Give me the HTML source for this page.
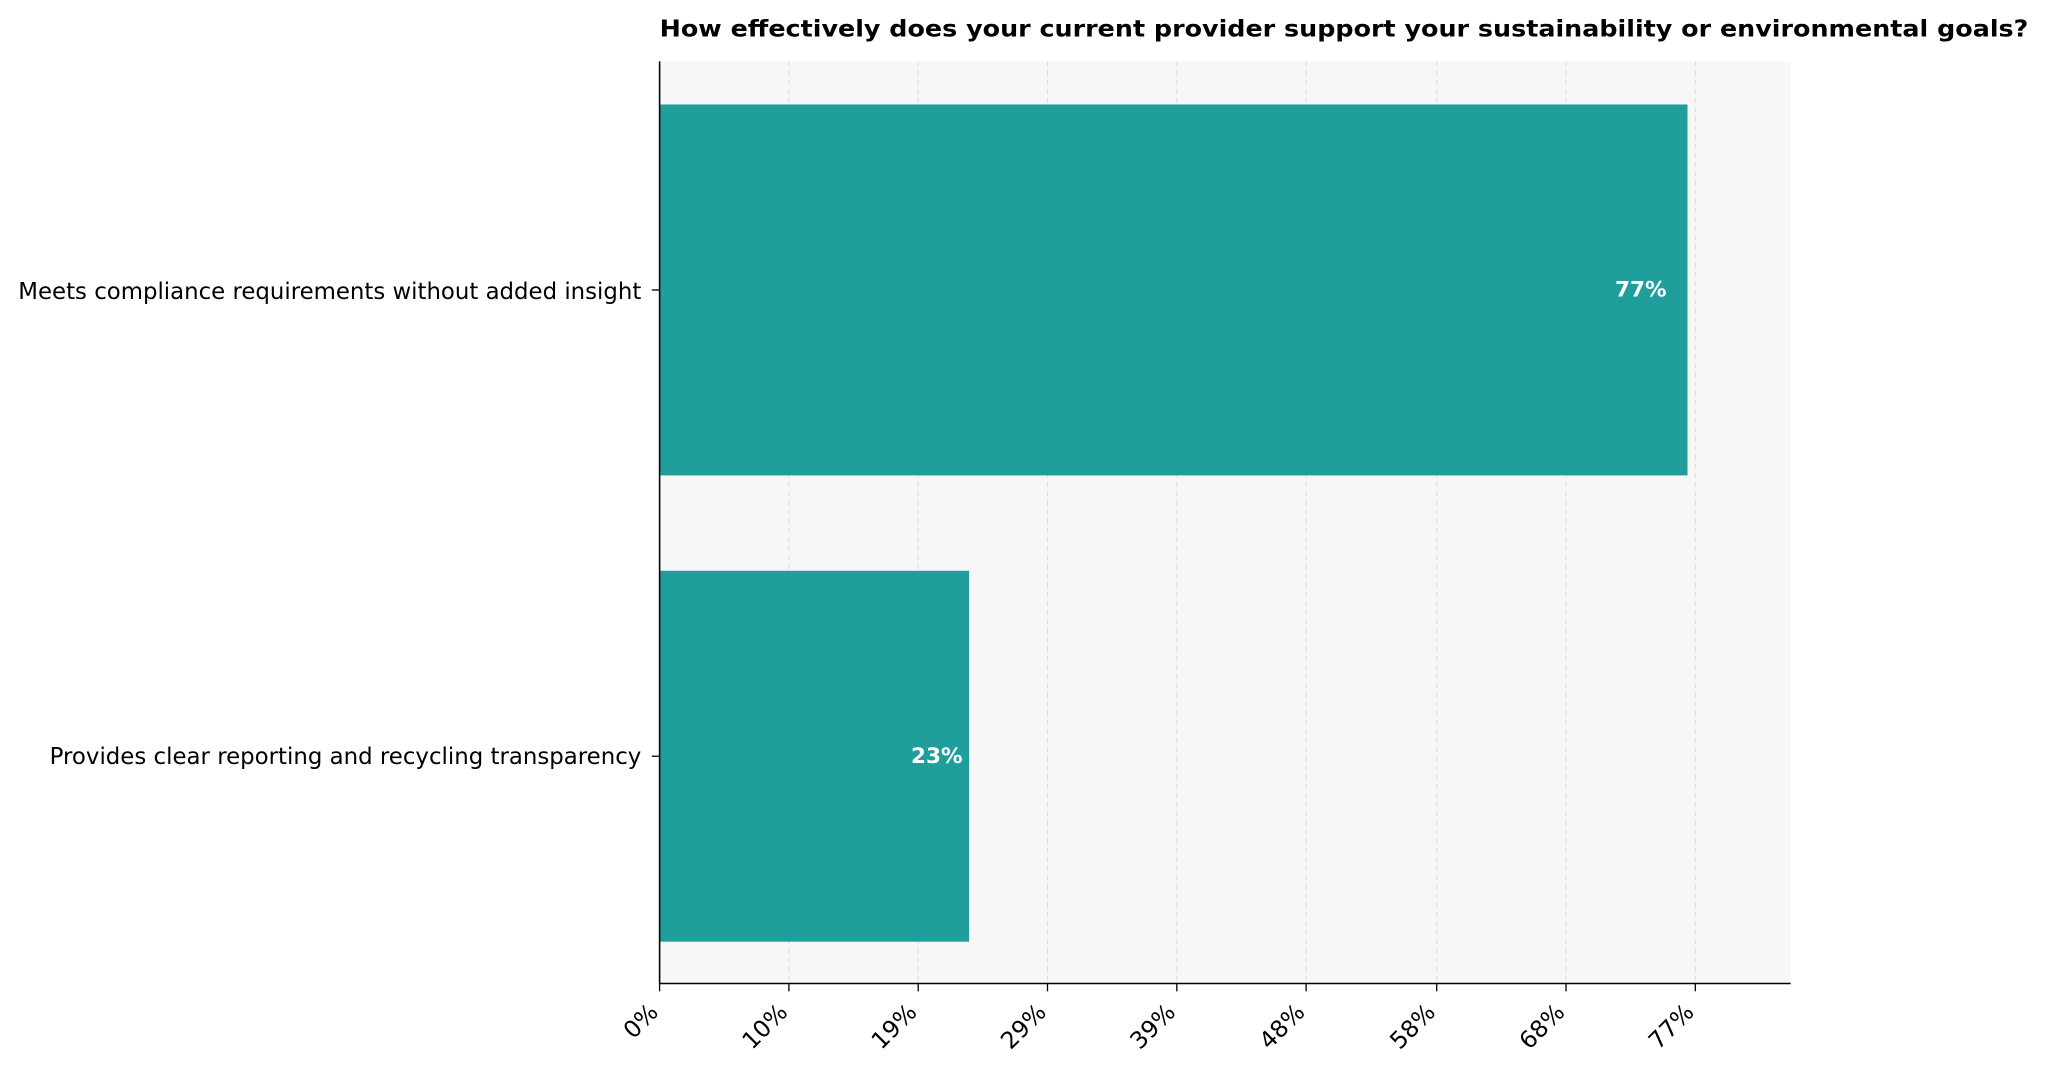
<!DOCTYPE html>
<html><head><style>html,body{margin:0;padding:0;background:#fff}svg{display:block}</style></head>
<body>
<svg width="2048" height="1077" viewBox="0 0 1568 824.6" xmlns="http://www.w3.org/2000/svg" font-family="DejaVu Sans, Liberation Sans, sans-serif">
<rect x="505" y="47" width="866" height="706" fill="#f7f7f7"/>
<g stroke="#dddddd" stroke-width="0.8" stroke-dasharray="4,3">
<line x1="604" y1="47" x2="604" y2="753"/><line x1="703" y1="47" x2="703" y2="753"/>
<line x1="802" y1="47" x2="802" y2="753"/><line x1="901" y1="47" x2="901" y2="753"/>
<line x1="1000" y1="47" x2="1000" y2="753"/><line x1="1100" y1="47" x2="1100" y2="753"/>
<line x1="1199" y1="47" x2="1199" y2="753"/><line x1="1298" y1="47" x2="1298" y2="753"/>
</g>
<rect x="505" y="80" width="787" height="284" fill="#1f9e9b"/>
<rect x="505" y="437" width="237" height="284" fill="#1f9e9b"/>
<line x1="505" y1="47" x2="505" y2="753" stroke="#000" stroke-width="1.2"/>
<line x1="505" y1="753" x2="1371" y2="753" stroke="#000" stroke-width="1.2"/>
<g stroke="#000" stroke-width="1">
<line x1="499" y1="222" x2="505" y2="222"/><line x1="499" y1="579" x2="505" y2="579"/>
<line x1="505" y1="753" x2="505" y2="759"/><line x1="604" y1="753" x2="604" y2="759"/><line x1="703" y1="753" x2="703" y2="759"/><line x1="802" y1="753" x2="802" y2="759"/><line x1="901" y1="753" x2="901" y2="759"/><line x1="1000" y1="753" x2="1000" y2="759"/><line x1="1100" y1="753" x2="1100" y2="759"/><line x1="1199" y1="753" x2="1199" y2="759"/><line x1="1298" y1="753" x2="1298" y2="759"/>
</g>
<text x="505" y="28" font-size="18" font-weight="bold" textLength="1048" lengthAdjust="spacingAndGlyphs">How effectively does your current provider support your sustainability or environmental goals?</text>
<g font-size="17.5" text-anchor="end">
<text x="491" y="229" textLength="477" lengthAdjust="spacingAndGlyphs">Meets compliance requirements without added insight</text>
<text x="491" y="585" textLength="453" lengthAdjust="spacingAndGlyphs">Provides clear reporting and recycling transparency</text>
</g>
<g font-size="16.5" font-weight="bold" fill="#fff" text-anchor="end">
<text x="1276" y="227">77%</text><text x="737" y="584">23%</text>
</g>
<g font-size="18" text-anchor="end">
<text transform="translate(505,776) rotate(-45)">0%</text>
<text transform="translate(604,776) rotate(-45)">10%</text>
<text transform="translate(703,776) rotate(-45)">19%</text>
<text transform="translate(802,776) rotate(-45)">29%</text>
<text transform="translate(901,776) rotate(-45)">39%</text>
<text transform="translate(1000,776) rotate(-45)">48%</text>
<text transform="translate(1100,776) rotate(-45)">58%</text>
<text transform="translate(1199,776) rotate(-45)">68%</text>
<text transform="translate(1298,776) rotate(-45)">77%</text>
</g>
</svg>
</body></html>
